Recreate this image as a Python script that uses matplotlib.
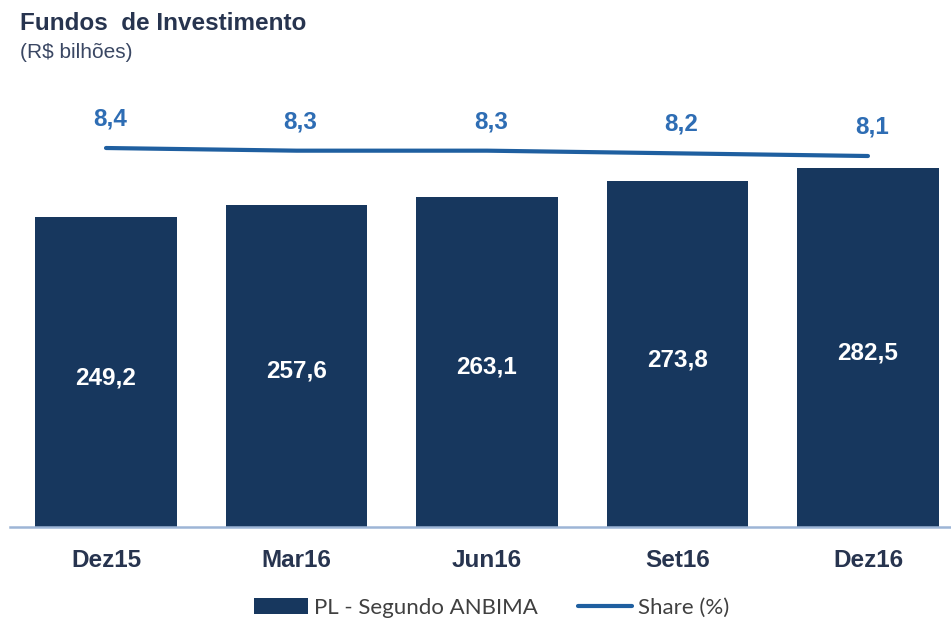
import matplotlib.pyplot as plt

# Fundos de Investimento - PL (R$ bilhões) e share (%)
categorias = ["Dez15", "Mar16", "Jun16", "Set16", "Dez16"]
pl_anbima = [249.2, 257.6, 263.1, 273.8, 282.5]
share = [8.4, 8.3, 8.3, 8.2, 8.1]

cor_barra = "#17375E"
cor_linha = "#1F5FA0"
cor_share = "#2E6DB4"
cor_texto = "#27344F"

plt.rcParams["font.family"] = ["Liberation Sans", "DejaVu Sans"]

fig = plt.figure(figsize=(9.51, 6.22), dpi=100)
ax = fig.add_axes([10 / 951, 95 / 622, 941 / 951, 427 / 622])

x = list(range(len(categorias)))
barras = ax.bar(x, pl_anbima, width=0.745, color=cor_barra, label="PL - Segundo ANBIMA", zorder=2)
rotulos = [f"{v:.1f}".replace(".", ",") for v in pl_anbima]
ax.bar_label(barras, labels=rotulos, label_type="center", color="white",
             fontsize=17.5, fontweight="bold", padding=-4)

ax.set_xlim(-0.504, 4.436)
ax.set_ylim(38.5, 328.8)
ax.set_xticks(x)
ax.set_xticklabels(categorias, fontsize=17.5, fontweight="bold", color=cor_texto)
ax.tick_params(axis="x", length=0, pad=16)
ax.set_yticks([])
for lado in ["top", "right", "left"]:
    ax.spines[lado].set_visible(False)
ax.spines["bottom"].set_color("#9DB5D6")
ax.spines["bottom"].set_linewidth(1.8)

# eixo secundário para o share
ax2 = ax.twinx()
ax2.set_ylim(-5.81, 10.2)
linha, = ax2.plot(x, share, color=cor_linha, linewidth=3, solid_capstyle="round",
                  label="Share (%)")
for xi, s in zip(x, share):
    ax2.annotate(f"{s:.1f}".replace(".", ","), (xi, s), xytext=(3, 21),
                 textcoords="offset points", ha="center", va="center",
                 fontsize=17.5, fontweight="bold", color=cor_share)
ax2.set_yticks([])
for lado in ["top", "right", "left", "bottom"]:
    ax2.spines[lado].set_visible(False)

fig.text(20 / 951, 1 - 12 / 622, "Fundos  de Investimento", fontsize=17.5,
         fontweight="bold", color=cor_texto, va="top")
fig.text(20 / 951, 1 - 43 / 622, "(R$ bilhões)", fontsize=15,
         color="#3A4763", va="top")

fig.legend(handles=[barras, linha], loc="center", bbox_to_anchor=(492 / 951, 1 - 608 / 622),
           ncol=2, frameon=False, prop={"family": ["Lato", "DejaVu Sans"], "size": 16},
           labelcolor="#404040", handlelength=2.4, handleheight=0.7,
           handletextpad=0.3, columnspacing=1.8)

fig.savefig("out.png", dpi=100)
